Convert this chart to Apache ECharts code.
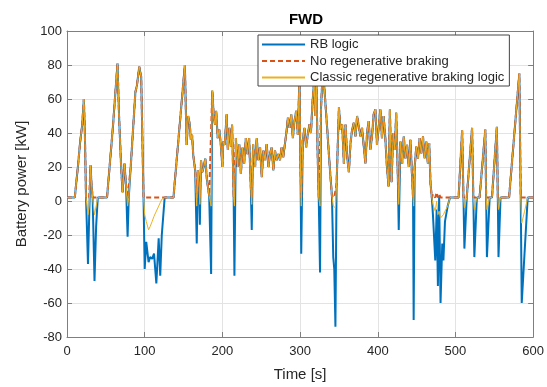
<!DOCTYPE html>
<html>
<head>
<meta charset="utf-8">
<script src="https://cdn.jsdelivr.net/npm/echarts@6/dist/echarts.min.js"></script>
<style>
html,body{margin:0;padding:0;background:#fff;}
#chart{width:547px;height:387px;}
</style>
</head>
<body>
<div id="chart"></div>
<script>
// Time samples [s]
const timeS = [
  0,10,14,17,19.6,21.7,23,24.5,27,28.5,
  30.3,31.5,33,35.4,37.5,39.6,51.5,59,65,67,
  69.5,71.5,74,76,78,79.5,82,88,90,93,
  95.5,98.5,100,102,105,107,109.6,112,115,118,
  120,122,125.7,137,151.7,154,156,158,159.5,161,
  162.5,163.5,165,167,168.5,170,171,172.5,174,176,
  178,180,183,185.5,187,189,190.5,192,194,196,
  198,200,201,203,205.5,207,209,211,212.5,213.5,
  214.5,215.5,217.4,219.5,221.7,223.8,225.9,228,230.2,232.3,
  234.4,236.6,237.8,239.5,242.1,244.2,246.4,248.5,250.7,252.8,
  254.9,257,259.2,261.3,263.4,265.6,267.7,269.8,271.9,274.1,
  276.2,278.3,280.5,282.6,284.3,286.5,288.6,290.7,292.8,295,
  297.1,299.2,300.5,301.5,303.5,305.6,307.8,309.9,312,314,
  316,318,319.5,321,322.5,324,325.7,327,329,331,
  333,335,337,339,341,342.7,344,345.5,347,350,
  352.1,354.2,356.4,358.5,360.6,362.8,364.9,367,369.2,371.3,
  373.4,375.6,377.7,379.8,382,384.1,386.2,388.3,390.5,392.6,
  394.7,396.9,399,401.1,403.3,405.4,407.5,409.6,411.8,413.9,
  415.6,417.7,419.9,422,423.7,425.8,427,429.2,431.4,433.5,
  435.6,437.7,439.9,442,444.1,445.4,446.2,447.5,449.6,451.8,
  453.9,456,458.2,460.3,462.4,464.5,466.2,467.9,469.6,471,
  474,475.8,477.4,479,480.8,483,484.5,486.5,490,493,
  504,508.6,510.3,511.5,514.5,515.5,521.4,523,524.3,527.5,531,
  538.4,539.5,540.5,544,547,553.3,554.5,555.4,558,569,
  582.2,584,585.3,589,593,600
];
// RB logic [kW]
const rbLogic = [
  2,2,20,35,45,60,40,2,-37,-10,
  21,10,2,-47,-15,2,2,43,81,50,
  22,5,22,9,-21,2,20,64,68,79,
  73,2,-40,-24,-36,-33,-34,-31,-48.5,-22,
  -44,-20,2,2,80,33,50,45,36,39,
  27,28,18,-25,18,10,-14,24,17,20,
  25,13,3,-43,65,49,45,53,37,42,
  33,20,35,33,51,30,43,32,45,24,
  2,-44,37,20,33.5,16,31.6,22,37,27.6,
  37,8,-17,33.5,20,37,24,31.6,14,29.6,
  24,33.5,20,27.6,31.6,18,29.6,24,27.6,24,
  31.6,25.7,33.5,41,49,43,51,37,47,53,
  39,72,20,-31,35.5,43,31.6,39,45,40,
  58,70,50,72,30,2,-42,55,75,68,
  55,42,28,15,3,-33,-40,-74,10,55,
  42,45,22,45,26,17,34,42,46,38,
  50,51,38,43,32,22,40,47,30,38,
  51,54,33,43,54,37,50,38,20,8.6,
  54,11,40,30,52,15,-17,35,22,38,
  25,33,20,36,15,2,-70,20,32,25,
  37,28,38,25,35,22,34,10,2,-8,
  -35,-5,-50,3,-60,-25,-35,-12,-3,2,
  2,41.5,2,-28,2,2,43,2,-33,2,2,
  42,2,-33,2,2,43.6,2,-33,2,2,
  75,2,-60,-30,2,2
];
// No regenerative braking [kW]
const noRegen = [
  2,2,20,35,45,60,40,2,2,2,
  21,10,2,2,2,2,2,43,81,50,
  22,5,22,9,2,2,20,64,68,79,
  73,2,2,2,2,2,2,2,2,2,
  2,2,2,2,80,33,50,45,36,39,
  27,28,18,2,18,10,2,24,17,20,
  25,13,3,2,65,49,45,53,37,42,
  33,20,35,33,51,30,43,32,45,24,
  2,2,37,20,33.5,16,31.6,22,37,27.6,
  37,8,2,33.5,20,37,24,31.6,14,29.6,
  24,33.5,20,27.6,31.6,18,29.6,24,27.6,24,
  31.6,25.7,33.5,41,49,43,51,37,47,53,
  39,72,20,2,35.5,43,31.6,39,45,40,
  58,70,50,72,30,2,2,55,75,68,
  55,42,28,15,3,2,2,2,10,55,
  42,45,22,45,26,17,34,42,46,38,
  50,51,38,43,32,22,40,47,30,38,
  51,54,33,43,54,37,50,38,20,8.6,
  54,11,40,30,52,15,2,35,22,38,
  25,33,20,36,15,2,2,20,32,25,
  37,28,38,25,35,22,34,10,2,4,
  2,5,2,4,2,2,2,2,2,2,
  2,41.5,2,2,2,2,43,2,2,2,2,
  42,2,2,2,2,43.6,2,2,2,2,
  75,2,2,2,2,2
];
// Classic regenerative braking logic [kW]
const classicRegen = [
  2,2,20,35,45,60,40,2,-8,-3,
  21,10,2,-8,-3,2,2,43,81,50,
  22,5,22,9,-3,2,20,64,68,79,
  73,2,-8,-12,-17,-15,-12,-9,-6,-3,
  -1,1,2,2,80,33,50,45,36,39,
  27,28,18,-3,18,10,-2,24,17,20,
  25,13,3,-3,65,49,45,53,37,42,
  33,20,35,33,51,30,43,32,45,24,
  2,-3,37,20,33.5,16,31.6,22,37,27.6,
  37,8,-2,33.5,20,37,24,31.6,14,29.6,
  24,33.5,20,27.6,31.6,18,29.6,24,27.6,24,
  31.6,25.7,33.5,41,49,43,51,37,47,53,
  39,72,20,-3,35.5,43,31.6,39,45,40,
  58,70,50,72,30,2,-3,55,75,68,
  55,42,28,15,3,-3,-3,-4,10,55,
  42,45,22,45,26,17,34,42,46,38,
  50,51,38,43,32,22,40,47,30,38,
  51,54,33,43,54,37,50,38,20,8.6,
  54,11,40,30,52,15,-2,35,22,38,
  25,33,20,36,15,2,-3,20,32,25,
  37,28,38,25,35,22,34,10,2,-2,
  -6,0,-8,-6,-10,-9,-8,-6,-3,2,
  2,41.5,2,-4,2,2,43,2,-5,2,2,
  42,2,-5,2,2,43.6,2,-5,2,2,
  75,2,-13,-6,2,2
];
const seriesNames = ['RB logic', 'No regenerative braking', 'Classic regenerative braking logic'];
const xTicks = [0, 600, 100];
const yTicks = [-80, 100, 20];

const pairs = arr => timeS.map((t, i) => [t, arr[i]]);
const FONT = '"Liberation Sans", Arial, Helvetica, sans-serif';
const TXT = '#262626';
const AX = '#7f7f7f';

function axisBase(show) {
  return {
    type: 'value',
    axisLine: { show: true, onZero: false, lineStyle: { color: AX, width: 1 } },
    axisTick: { show: true, inside: true, length: 5, lineStyle: { color: AX } },
    axisLabel: { show: show, color: TXT, fontSize: 13, fontFamily: FONT },
    splitLine: { show: false }
  };
}

const chart = echarts.init(document.getElementById('chart'), null, { renderer: 'canvas' });
chart.setOption({
  animation: false,
  backgroundColor: '#ffffff',
  title: {
    text: 'FWD',
    left: 301, top: 7, textAlign: 'center',
    textStyle: { fontSize: 15, fontWeight: 'bold', color: '#000', fontFamily: FONT }
  },
  grid: { left: 67, right: 11, top: 31, bottom: 47, containLabel: false },
  legend: {
    data: seriesNames,
    orient: 'vertical',
    left: 258, top: 35,
    padding: [3, 5, 2, 3],
    itemWidth: 43, itemHeight: 14, itemGap: 3.5,
    backgroundColor: '#ffffff',
    borderColor: '#444444', borderWidth: 1, borderRadius: 0,
    itemStyle: { color: 'rgba(0,0,0,0)', borderColor: 'rgba(0,0,0,0)', borderWidth: 0, opacity: 0 },
    textStyle: { fontSize: 13, color: TXT, fontFamily: FONT }
  },
  xAxis: [
    Object.assign(axisBase(true), {
      min: xTicks[0], max: xTicks[1], interval: xTicks[2], position: 'bottom',
      name: 'Time [s]', nameLocation: 'middle', nameGap: 30,
      nameTextStyle: { fontSize: 15, color: TXT, fontFamily: FONT },
      splitLine: { show: true, lineStyle: { color: '#e3e3e3', width: 1 } }
    }),
    Object.assign(axisBase(false), {
      min: xTicks[0], max: xTicks[1], interval: xTicks[2], position: 'top'
    })
  ],
  yAxis: [
    Object.assign(axisBase(true), {
      min: yTicks[0], max: yTicks[1], interval: yTicks[2], position: 'left',
      name: 'Battery power [kW]', nameLocation: 'middle', nameGap: 23, nameRotate: 90,
      nameTextStyle: { fontSize: 15, color: TXT, fontFamily: FONT },
      axisLabel: { show: true, color: TXT, fontSize: 13, fontFamily: FONT, margin: 5 },
      splitLine: { show: true, lineStyle: { color: '#e3e3e3', width: 1 } }
    }),
    Object.assign(axisBase(false), {
      min: yTicks[0], max: yTicks[1], interval: yTicks[2], position: 'right'
    })
  ],
  series: [
    {
      name: seriesNames[0], type: 'line', data: pairs(rbLogic),
      xAxisIndex: 0, yAxisIndex: 0, symbol: 'none', showSymbol: false,
      lineStyle: { color: '#0072BD', width: 2 }, itemStyle: { color: '#0072BD' }
    },
    {
      name: seriesNames[1], type: 'line', data: pairs(noRegen),
      xAxisIndex: 0, yAxisIndex: 0, symbol: 'none', showSymbol: false,
      lineStyle: { color: '#D95319', width: 2, type: [5, 3] }, itemStyle: { color: '#D95319' }
    },
    {
      name: seriesNames[2], type: 'line', data: pairs(classicRegen),
      xAxisIndex: 0, yAxisIndex: 0, symbol: 'none', showSymbol: false,
      lineStyle: { color: '#EDB120', width: 1 }, itemStyle: { color: '#EDB120' }
    }
  ]
});
if (!(timeS.length === rbLogic.length && rbLogic.length === noRegen.length && noRegen.length === classicRegen.length)) {
  console.error('length mismatch', timeS.length, rbLogic.length, noRegen.length, classicRegen.length);
}
</script>
</body>
</html>
